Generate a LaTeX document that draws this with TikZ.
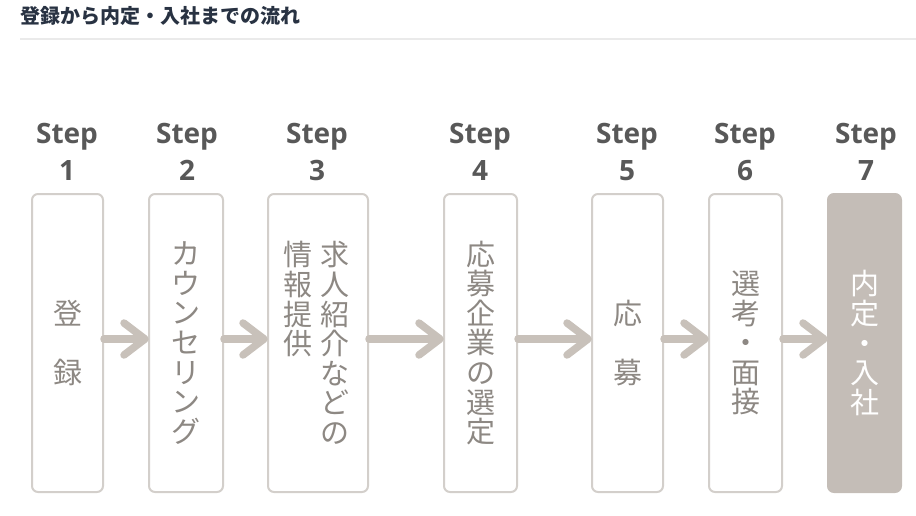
\documentclass[tikz,border=0pt]{standalone}
\usepackage{fontspec}
\newfontfamily\jp{Noto Sans CJK JP}
\newfontfamily\stepfont{Open Sans}
\definecolor{titlec}{RGB}{40,50,66}
\definecolor{rulec}{RGB}{234,234,234}
\definecolor{stepc}{RGB}{88,88,88}
\definecolor{boxline}{RGB}{211,207,203}
\definecolor{boxtext}{RGB}{141,136,131}
\definecolor{arrowc}{RGB}{200,193,186}
\definecolor{lastfill}{RGB}{196,189,183}
\tikzset{
  stepbox/.style={draw=boxline, line width=2pt, rounded corners=6pt, minimum height=298pt, inner sep=0pt, fill=white},
  lastbox/.style={stepbox, draw=lastfill, fill=lastfill},
  steplabel/.style={font=\stepfont\bfseries\fontsize{28}{28}\selectfont, text=stepc, anchor=base, inner sep=0pt},
  vtext/.style={font=\jp\fontsize{29}{29.6}\selectfont, text=boxtext, align=center, inner sep=0pt},
  arr/.style={draw=arrowc, line width=7.5pt, line cap=round, line join=round},
}
\begin{document}
\begin{tikzpicture}[x=1pt,y=-1pt]
\useasboundingbox (0,0) rectangle (916,515);
\node[anchor=west, font=\jp\bfseries\fontsize{20}{20}\selectfont, text=titlec, inner sep=0pt] (title) at (20,16) {登録から内定・入社までの流れ};
\coordinate (rl) at (20,38.5);
\coordinate (rr) at (916,38.5);
\draw[rulec, line width=2pt] (rl) -- (rr);

% boxes
\node[stepbox, minimum width=71pt] (b1) at (67.5,343) {};
\node[stepbox, minimum width=74pt] (b2) at (186,343) {};
\node[stepbox, minimum width=100pt] (b3) at (318,343) {};
\node[stepbox, minimum width=73pt] (b4) at (480.5,343) {};
\node[stepbox, minimum width=71pt] (b5) at (627.5,343) {};
\node[stepbox, minimum width=73pt] (b6) at (745.5,343) {};
\node[lastbox, minimum width=73pt] (b7) at (864.5,343) {};

% step labels
\foreach \i/\x in {1/67,2/187,3/317,4/480,5/627,6/745,7/866}{
  \node[steplabel] (s\i) at (\x,143) {Step};
  \node[steplabel] (n\i) at (\x,180) {\i};
}

% box texts
\node[vtext] (t1) at (b1.center) {登\\　\\録};
\node[vtext] (t2) at (b2.center) {カ\\ウ\\ン\\セ\\リ\\ン\\グ};
\node[vtext] (t3a) at (335,343) {求\\人\\紹\\介\\な\\ど\\の};
\node[vtext, anchor=north] (t3b) at (t3a.north -| 298,0) {情\\報\\提\\供};
\node[vtext] (t4) at (b4.center) {応\\募\\企\\業\\の\\選\\定};
\node[vtext] (t5) at (b5.center) {応\\　\\募};
\node[vtext] (t6) at (b6.center) {選\\考\\・\\面\\接};
\node[vtext, text=white] (t7) at (b7.center) {内\\定\\・\\入\\社};

% arrows
\foreach \a/\b in {b1/b2,b2/b3,b3/b4,b4/b5,b5/b6,b6/b7}{
  \draw[arr] ([yshift=4pt]\a.east) -- ([xshift=-4pt,yshift=4pt]\b.west);
  \draw[arr] ([xshift=-24pt,yshift=20pt]\b.west) -- ([xshift=-3pt,yshift=4pt]\b.west) -- ([xshift=-24pt,yshift=-12pt]\b.west);
}
\end{tikzpicture}
\end{document}
